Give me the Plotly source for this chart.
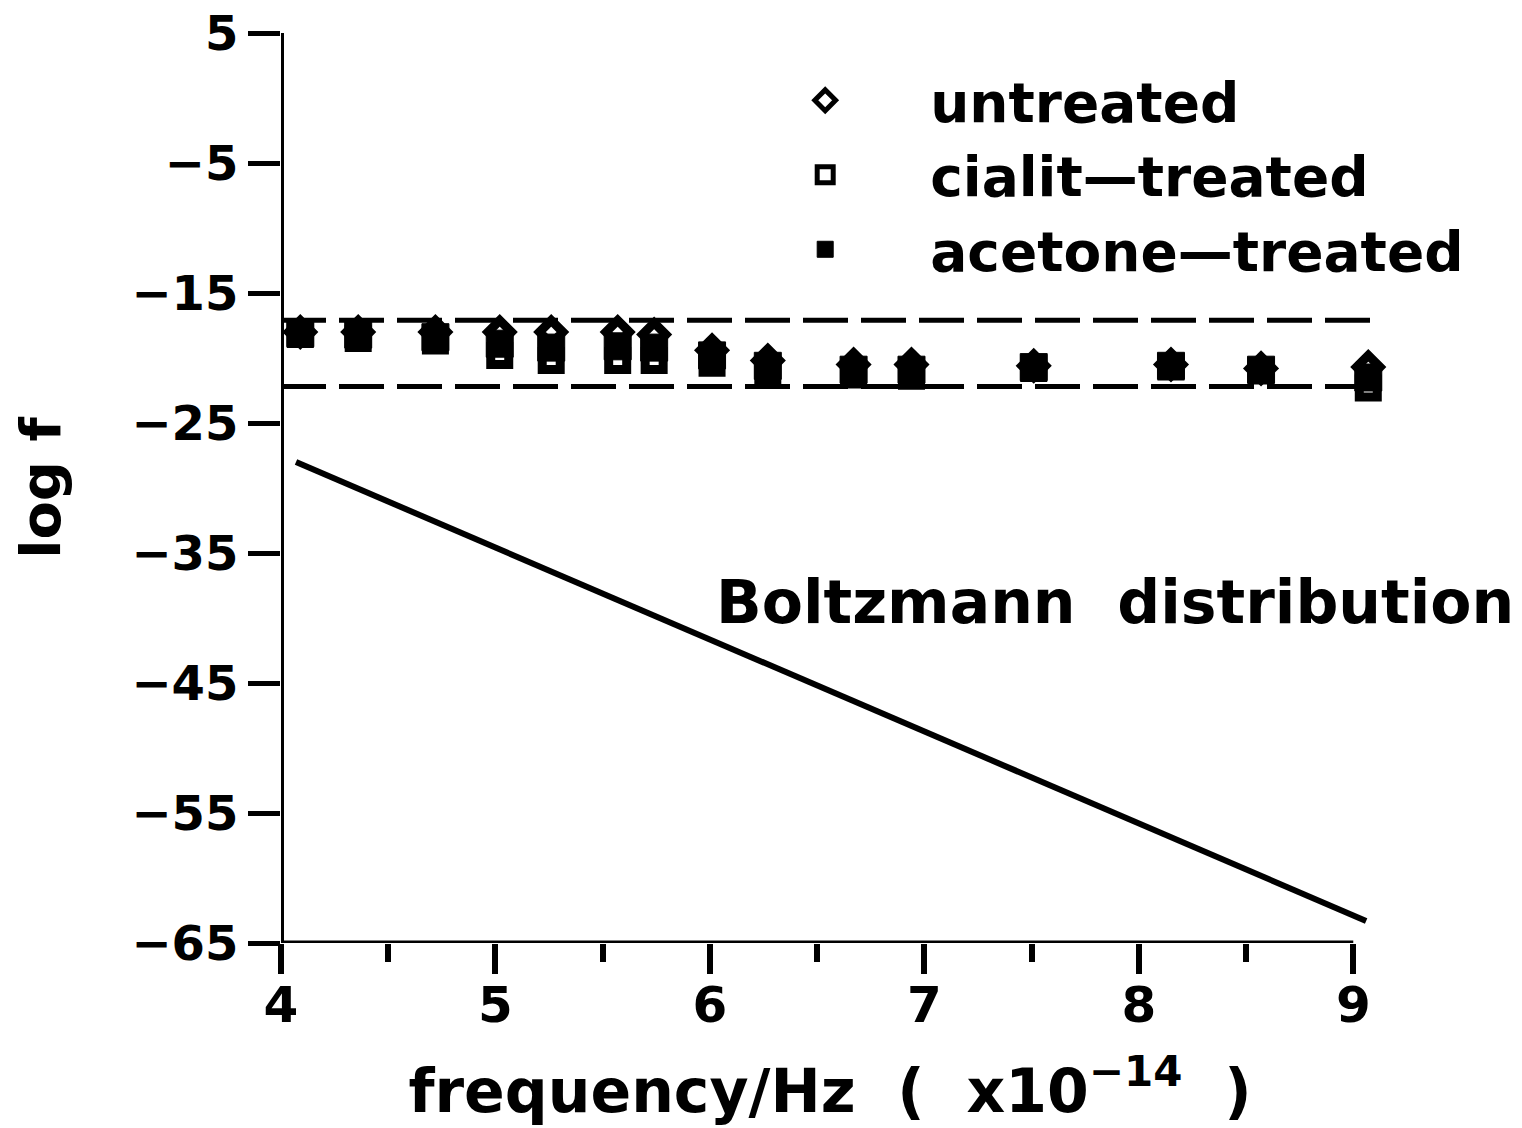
import plotly.graph_objects as go

# ---- data ----
freq = [4.09, 4.36, 4.72, 5.02, 5.26, 5.57, 5.74, 6.01, 6.27, 6.67, 6.94, 7.51, 8.15, 8.57, 9.07]
untreated = [-18.0, -18.0, -18.0, -18.0, -18.0, -18.0, -18.2, -19.4, -20.2, -20.5, -20.5, -20.6, -20.5, -20.8, -20.7]
cialit = [-18.2, -18.5, -18.7, -19.8, -20.2, -20.2, -20.2, -20.4, -21.1, -21.3, -21.4, -20.8, -20.7, -21.0, -22.3]
acetone = [-18.1, -18.2, -18.4, -18.9, -19.2, -19.1, -19.2, -19.8, -20.6, -20.9, -20.9, -20.7, -20.6, -20.9, -21.5]

band_x = [4.0, 9.09]
band_upper = [-17.1, -17.1]
band_lower = [-22.2, -22.2]

boltz_x = [4.07, 9.06]
boltz_y = [-28.0, -63.3]

x_ticks = [4, 5, 6, 7, 8, 9]
x_minor = [4.5, 5.5, 6.5, 7.5, 8.5]
y_ticks = [5, -5, -15, -25, -35, -45, -55, -65]

FONT = "DejaVu Sans"
BLACK = "#000000"

fig = go.Figure()

for yb in (band_upper, band_lower):
    fig.add_trace(go.Scatter(x=band_x, y=yb, mode="lines", showlegend=False,
                             line=dict(color=BLACK, width=5, dash="45px,13px"),
                             hoverinfo="skip"))

fig.add_trace(go.Scatter(x=boltz_x, y=boltz_y, mode="lines", showlegend=False,
                         line=dict(color=BLACK, width=6), name="Boltzmann distribution"))

fig.add_trace(go.Scatter(x=freq, y=untreated, mode="markers", name="untreated", cliponaxis=False,
                         marker=dict(symbol="diamond-open", size=18, color=BLACK,
                                     line=dict(color=BLACK, width=9))))
fig.add_trace(go.Scatter(x=freq, y=cialit, mode="markers", name="cialit\u2014treated", cliponaxis=False,
                         marker=dict(symbol="square-open", size=18, color=BLACK,
                                     line=dict(color=BLACK, width=9))))
fig.add_trace(go.Scatter(x=freq, y=acetone, mode="markers", name="acetone\u2014treated", cliponaxis=False,
                         marker=dict(symbol="square", size=27, color=BLACK,
                                     line=dict(color=BLACK, width=1))))

# axis lines (end exactly at the last tick like the original)
fig.add_shape(type="line", xref="x", yref="y", x0=4, x1=9, y0=-65, y1=-65,
              line=dict(color=BLACK, width=5))
fig.add_shape(type="line", xref="x", yref="y", x0=4, x1=4, y0=-65, y1=5,
              line=dict(color=BLACK, width=6))

fig.add_annotation(x=6.02, y=-38.8, xref="x", yref="y", text="Boltzmann  distribution",
                   showarrow=False, xanchor="left", yanchor="middle",
                   font=dict(family=FONT, size=60, color=BLACK, weight="bold"))

fig.update_layout(
    width=1522, height=1128,
    margin=dict(l=281, r=143, t=33, b=185),
    paper_bgcolor="white", plot_bgcolor="white",
    font=dict(family=FONT, color=BLACK, weight="bold"),
    legend=dict(x=0.40, y=0.9725, xanchor="left", yanchor="top",
                font=dict(family=FONT, size=55, color=BLACK, weight="bold"),
                itemwidth=200, bgcolor="rgba(0,0,0,0)", tracegroupgap=0),
    xaxis=dict(range=[4, 9.12], tickvals=x_ticks, ticks="outside", ticklen=30, tickwidth=6,
               tickcolor=BLACK, showline=False, showgrid=False, zeroline=False,
               automargin=False,
               ticklabelstandoff=-12, ticklabeloverflow="allow",
               tickfont=dict(family=FONT, size=50, color=BLACK, weight="bold"),
               minor=dict(tickvals=x_minor, ticks="outside", ticklen=18, tickwidth=6,
                          tickcolor=BLACK, showgrid=False),
               title=dict(text="frequency/Hz  (  x10<sup>\u221214</sup>  )", standoff=36,
                          font=dict(family=FONT, size=60, color=BLACK, weight="bold"))),
    yaxis=dict(range=[-65, 5], tickvals=y_ticks, ticks="outside", ticklen=32, tickwidth=5,
               tickcolor=BLACK, showline=False, showgrid=False, zeroline=False,
               automargin=False, ticklabeloverflow="allow",
               tickfont=dict(family=FONT, size=48, color=BLACK, weight="bold"),
               title=dict(text="log f", standoff=52,
                          font=dict(family=FONT, size=56, color=BLACK, weight="bold"))),
)

fig.write_html("out.html", config={"displayModeBar": False},
               post_script="document.body.style.margin='0';document.body.style.overflow='hidden';")
